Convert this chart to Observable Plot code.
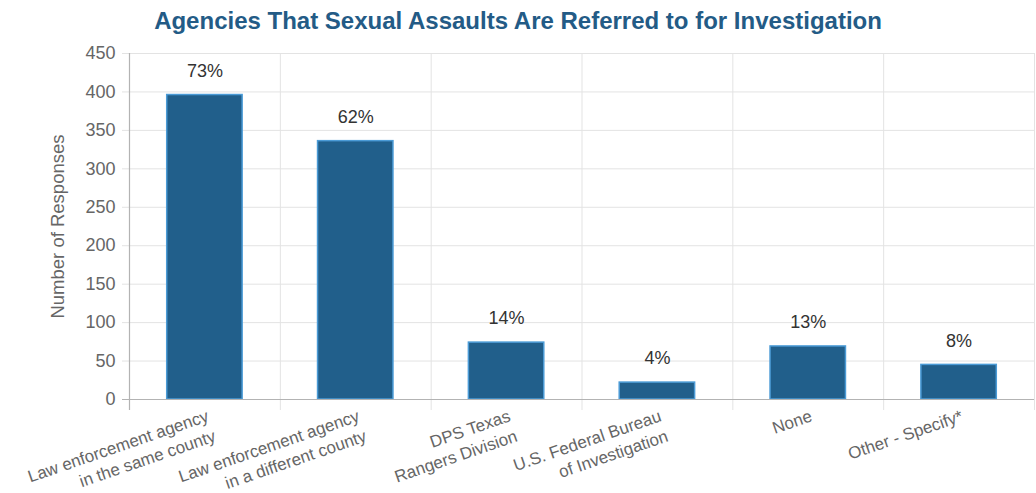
<!DOCTYPE html>
<html>
<head>
<meta charset="utf-8">
<script src="https://cdn.jsdelivr.net/npm/d3@7"></script>
<script src="https://cdn.jsdelivr.net/npm/@observablehq/plot@0.6"></script>
<style>
  html, body { margin: 0; padding: 0; background: #fff; }
  #title { height: 40px; box-sizing: border-box; padding-top: 7px; line-height: 28px; text-align: center;
    font-family: Arial, "Liberation Sans", sans-serif; font-weight: bold; font-size: 24px; color: #235b86; }
</style>
</head>
<body>
<div id="title">Agencies That Sexual Assaults Are Referred to for Investigation</div>
<div id="chart"></div>
<script>
const categories = [
  "Law enforcement agency in the same county",
  "Law enforcement agency in a different county",
  "DPS Texas Rangers Division",
  "U.S. Federal Bureau of Investigation",
  "None",
  "Other - Specify*"
];
const tickLabels = [
  "Law enforcement agency\nin the same county",
  "Law enforcement agency\nin a different county",
  "DPS Texas\nRangers Division",
  "U.S. Federal Bureau\nof Investigation",
  "None",
  "Other - Specify*"
];
const responses = [396, 336, 74, 22, 69, 45];
const percents = ["73%", "62%", "14%", "4%", "13%", "8%"];
const yTicks = [0, 50, 100, 150, 200, 250, 300, 350, 400, 450];

const data = categories.map((c, i) => ({category: c, label: tickLabels[i], value: responses[i], pct: percents[i]}));

const W = 1036, ML = 129, MR = 2;
const halfStep = (W - ML - MR) / categories.length / 2;

const chart = Plot.plot({
  width: W,
  height: 453,
  marginLeft: ML,
  marginRight: MR,
  marginTop: 13,
  marginBottom: 94,
  style: {fontFamily: "Arial, 'Liberation Sans', sans-serif", fontSize: "18px", color: "#666", background: "#fff"},
  x: {type: "band", domain: categories, paddingInner: 0.5, paddingOuter: 0.25, round: false, axis: null},
  y: {domain: [0, 450], axis: null},
  marks: [
    Plot.ruleY(yTicks.slice(1), {stroke: "#e3e3e3", strokeWidth: 1, insetLeft: -7}),
    Plot.ruleX(categories.slice(1), {x: d => d, dx: -halfStep, stroke: "#e3e3e3", strokeWidth: 1, insetBottom: -11}),
    Plot.ruleX(categories.slice(-1), {x: d => d, dx: halfStep, stroke: "#e3e3e3", strokeWidth: 1, insetBottom: -11}),
    Plot.barY(data, {x: "category", y: "value", fill: "#215f8b", stroke: "#4b9bd6", strokeWidth: 1.5}),
    Plot.ruleY([0], {stroke: "#b3b3b3", strokeWidth: 1.2, insetLeft: -7}),
    Plot.ruleX(categories.slice(0, 1), {x: d => d, dx: -halfStep, stroke: "#b3b3b3", strokeWidth: 1.2, insetBottom: -11}),
    Plot.axisY({ticks: yTicks, tickSize: 0, tickPadding: 14, fill: "#666", fontSize: 18, label: null}),
    Plot.text(["Number of Responses"], {frameAnchor: "left", dx: -71, rotate: -90, textAnchor: "middle", fill: "#666", fontSize: 18.5}),
    Plot.text(data, {x: "category", y: "value", text: "pct", dy: -24, fill: "#333", fontSize: 18}),
    Plot.text(data, {x: "category", text: "label", frameAnchor: "bottom", dy: 7, rotate: -19,
      textAnchor: "end", lineAnchor: "top", lineHeight: 1.25, fill: "#666", fontSize: 17})
  ]
});
document.getElementById("chart").appendChild(chart);
</script>
</body>
</html>
